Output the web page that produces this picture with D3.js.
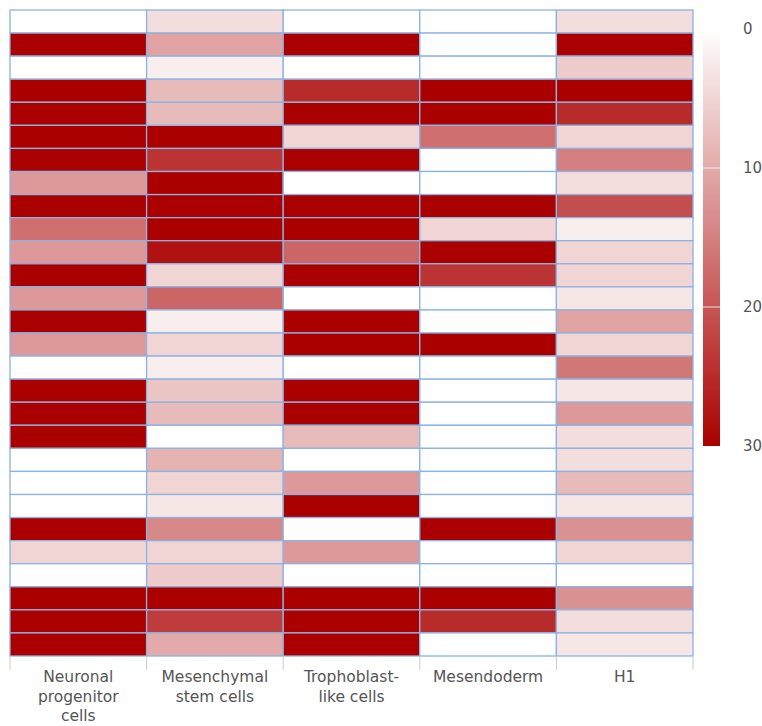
<!DOCTYPE html>
<html>
<head>
<meta charset="utf-8">
<script src="https://cdn.jsdelivr.net/npm/d3@7"></script>
<style>
  body { margin: 0; background: #fff; }
  text { font-family: "DejaVu Sans", Verdana, sans-serif; }
</style>
</head>
<body>
<div id="my_dataviz"></div>
<script>
// columns (cell types)
const cellTypes = ["Neuronal progenitor cells", "Mesenchymal stem cells", "Trophoblast-like cells", "Mesendoderm", "H1"];
const cellLabels = [["Neuronal", "progenitor", "cells"], ["Mesenchymal", "stem cells"], ["Trophoblast-", "like cells"], ["Mesendoderm"], ["H1"]];

// one array per column, top row first (28 rows)
const npc = [0, 30, 0, 30, 30, 30, 30, 12, 30, 17, 12, 30, 12, 30, 12, 0, 30, 30, 30, 0, 0, 0, 30, 5, 0, 30, 30, 30];
const msc = [4, 11, 2, 8, 8, 30, 24, 30, 30, 30, 28, 5, 18, 2, 5, 2, 7, 8, 0, 9, 5, 3, 14, 5, 6, 30, 23, 10];
const tlc = [0, 30, 0, 25, 30, 5, 30, 0, 30, 30, 18, 30, 0, 30, 30, 0, 30, 30, 8, 0, 12, 30, 0, 12, 0, 30, 30, 30];
const mes = [0, 0, 0, 30, 30, 17, 0, 0, 30, 5, 30, 24, 0, 0, 30, 0, 0, 0, 0, 0, 0, 0, 30, 0, 0, 30, 25, 0];
const h1  = [4, 30, 6, 30, 25, 5, 15, 4, 21, 2, 5, 5, 3, 11, 5, 16, 3, 12, 4, 4, 8, 3, 13, 5, 0, 13, 4, 3];
const columns = [npc, msc, tlc, mes, h1];

const legendTicks = [0, 10, 20, 30];

const nRows = npc.length;
const rows = d3.range(nRows);

const W = 762, H = 726;
const grid = {left: 10, right: 693, top: 10, bottom: 656};

const svg = d3.select("#my_dataviz")
  .append("svg")
    .attr("width", W)
    .attr("height", H);

const x = d3.scaleBand()
  .domain(cellTypes)
  .range([grid.left, grid.right]);

const y = d3.scaleBand()
  .domain(rows)
  .range([grid.top, grid.bottom]);

const color = d3.scaleLinear()
  .domain([0, 30])
  .range(["#ffffff", "#aa0000"])
  .clamp(true);

// flatten to cells
const cells = [];
columns.forEach((col, ci) => {
  col.forEach((v, ri) => cells.push({type: cellTypes[ci], row: ri, value: v}));
});

svg.append("g")
  .selectAll("rect")
  .data(cells)
  .join("rect")
    .attr("x", d => x(d.type))
    .attr("y", d => y(d.row))
    .attr("width", x.bandwidth())
    .attr("height", y.bandwidth())
    .attr("fill", d => color(d.value))
    .attr("stroke", "#8db3e2")
    .attr("stroke-width", 1.3);

// x axis: ticks at column boundaries, labels centered
const axisG = svg.append("g");
const bounds = cellTypes.map(c => x(c)).concat([x(cellTypes[cellTypes.length - 1]) + x.bandwidth()]);
axisG.selectAll("line")
  .data(bounds)
  .join("line")
    .attr("x1", d => d).attr("x2", d => d)
    .attr("y1", grid.bottom).attr("y2", grid.bottom + 14)
    .attr("stroke", "#cccccc")
    .attr("stroke-width", 1);

axisG.selectAll("text")
  .data(cellTypes)
  .join("text")
    .attr("x", d => x(d) + x.bandwidth() / 2)
    .attr("y", grid.bottom + 26)
    .attr("text-anchor", "middle")
    .attr("font-size", "15.5px")
    .attr("fill", "#555")
    .each(function(d, i) {
      d3.select(this).selectAll("tspan")
        .data(cellLabels[i])
        .join("tspan")
          .attr("x", x(d) + x.bandwidth() / 2)
          .attr("dy", (t, j) => j === 0 ? 0 : 19.5)
          .text(t => t);
    });

// legend colour bar
const legY = d3.scaleLinear().domain([0, 30]).range([29, 446]);
const defs = svg.append("defs");
const grad = defs.append("linearGradient")
  .attr("id", "legendGrad")
  .attr("x1", 0).attr("y1", 0).attr("x2", 0).attr("y2", 1);
grad.append("stop").attr("offset", "0%").attr("stop-color", color(0));
grad.append("stop").attr("offset", "100%").attr("stop-color", color(30));

svg.append("rect")
  .attr("x", 703)
  .attr("y", legY(0))
  .attr("width", 17)
  .attr("height", legY(30) - legY(0))
  .attr("fill", "url(#legendGrad)");

svg.append("g")
  .selectAll("line")
  .data(legendTicks.slice(1, -1))
  .join("line")
    .attr("x1", 703).attr("x2", 720)
    .attr("y1", d => legY(d)).attr("y2", d => legY(d))
    .attr("stroke", "#ffffff")
    .attr("stroke-opacity", 0.8)
    .attr("stroke-width", 1);

svg.append("g")
  .selectAll("text")
  .data(legendTicks)
  .join("text")
    .attr("x", 743)
    .attr("y", d => legY(d))
    .attr("dy", "0.35em")
    .attr("font-size", "15px")
    .attr("fill", "#555")
    .text(d => d);
</script>
</body>
</html>
